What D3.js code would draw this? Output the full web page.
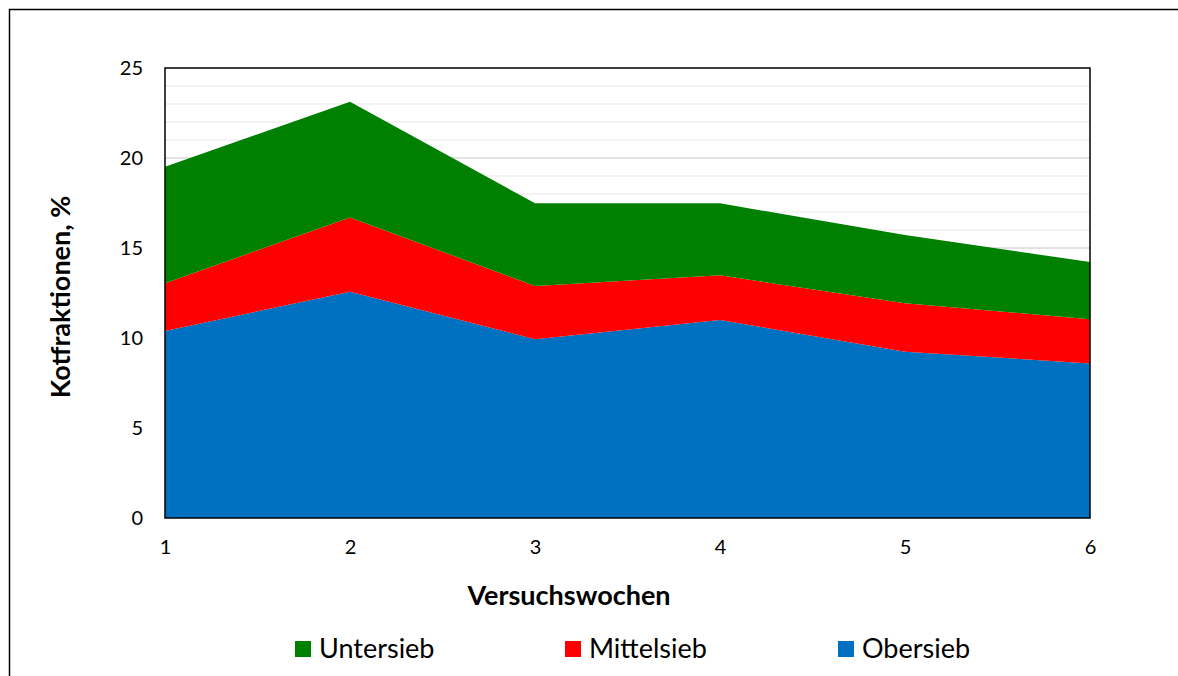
<!DOCTYPE html>
<html>
<head>
<meta charset="utf-8">
<title>Kotfraktionen</title>
<script src="https://d3js.org/d3.v7.min.js"></script>
<style>
  body { margin: 0; background: #fff; }
  svg { display: block; font-family: Lato, "Open Sans", sans-serif; }
</style>
</head>
<body>
<div id="chart"></div>
<script>
// data (stacked area, bottom to top)
var weeks = [1, 2, 3, 4, 5, 6];
var obersieb = [10.39, 12.57, 9.93, 11.0, 9.24, 8.59];
var mittelsieb = [2.65, 4.13, 2.96, 2.48, 2.69, 2.45];
var untersieb = [6.48, 6.43, 4.59, 4.0, 3.79, 3.18];
var yTicks = [0, 5, 10, 15, 20, 25];

var seriesNames = ["Obersieb", "Mittelsieb", "Untersieb"];
var colors = { Obersieb: "#0070c0", Mittelsieb: "#ff0000", Untersieb: "#008000" };
var legendOrder = ["Untersieb", "Mittelsieb", "Obersieb"];

var W = 1178, H = 676;
var plot = { left: 165, top: 68, right: 1090, bottom: 518 };

var rows = weeks.map(function (w, i) {
  return { week: w, Obersieb: obersieb[i], Mittelsieb: mittelsieb[i], Untersieb: untersieb[i] };
});

var svg = d3.select("#chart").append("svg")
  .attr("width", W)
  .attr("height", H);

// outer frame
svg.append("rect")
  .attr("x", 9.5).attr("y", 9.5)
  .attr("width", 1200).attr("height", 700)
  .attr("fill", "none").attr("stroke", "#000").attr("stroke-width", 1.5);

var x = d3.scaleLinear().domain([1, 6]).range([plot.left, plot.right]);
var y = d3.scaleLinear().domain([0, 25]).range([plot.bottom, plot.top]);

// gridlines: minor every 1, major every 5
var minor = d3.range(1, 25).filter(function (v) { return v % 5 !== 0; });
svg.append("g").selectAll("line")
  .data(minor).enter().append("line")
  .attr("x1", plot.left).attr("x2", plot.right)
  .attr("y1", function (d) { return y(d); })
  .attr("y2", function (d) { return y(d); })
  .attr("stroke", "#efefef").attr("stroke-width", 1.5);
svg.append("g").selectAll("line")
  .data([5, 10, 15, 20]).enter().append("line")
  .attr("x1", plot.left).attr("x2", plot.right)
  .attr("y1", function (d) { return y(d); })
  .attr("y2", function (d) { return y(d); })
  .attr("stroke", "#d9d9d9").attr("stroke-width", 1.5);

// stacked areas
var stack = d3.stack().keys(seriesNames);
var layers = stack(rows);
var area = d3.area()
  .x(function (d) { return x(d.data.week); })
  .y0(function (d) { return y(d[0]); })
  .y1(function (d) { return y(d[1]); });

svg.append("g").selectAll("path")
  .data(layers).enter().append("path")
  .attr("d", area)
  .attr("fill", function (d) { return colors[d.key]; });

// plot border
svg.append("rect")
  .attr("x", plot.left).attr("y", plot.top)
  .attr("width", plot.right - plot.left)
  .attr("height", plot.bottom - plot.top)
  .attr("fill", "none").attr("stroke", "#000").attr("stroke-width", 1.5);

// axes
var yAxis = d3.axisLeft(y).tickValues(yTicks).tickSize(0).tickPadding(22);
svg.append("g")
  .attr("transform", "translate(" + plot.left + ",0)")
  .call(yAxis)
  .call(function (g) { g.select(".domain").remove(); })
  .selectAll("text")
  .attr("font-size", 20).attr("fill", "#000")
  .attr("font-family", "Lato, 'Open Sans', sans-serif");

var xAxis = d3.axisBottom(x).tickValues(weeks).tickFormat(d3.format("d")).tickSize(0).tickPadding(22);
svg.append("g")
  .attr("transform", "translate(0," + plot.bottom + ")")
  .call(xAxis)
  .call(function (g) { g.select(".domain").remove(); })
  .selectAll("text")
  .attr("font-size", 20).attr("fill", "#000")
  .attr("font-family", "Lato, 'Open Sans', sans-serif");

// axis titles
svg.append("text")
  .attr("x", 569)
  .attr("y", 605)
  .attr("text-anchor", "middle")
  .attr("font-size", 27).attr("font-weight", "bold")
  .text("Versuchswochen");

svg.append("text")
  .attr("transform", "translate(70,297) rotate(-90)")
  .attr("text-anchor", "middle")
  .attr("font-size", 27).attr("font-weight", "bold")
  .text("Kotfraktionen, %");

// legend
var legendX = [295, 565, 838];
var legend = svg.append("g").selectAll("g")
  .data(legendOrder).enter().append("g")
  .attr("transform", function (d, i) { return "translate(" + legendX[i] + ",641)"; });
legend.append("rect")
  .attr("width", 16).attr("height", 16)
  .attr("fill", function (d) { return colors[d]; });
legend.append("text")
  .attr("x", 24).attr("y", 17)
  .attr("font-size", 27)
  .text(function (d) { return d; });
</script>
</body>
</html>
